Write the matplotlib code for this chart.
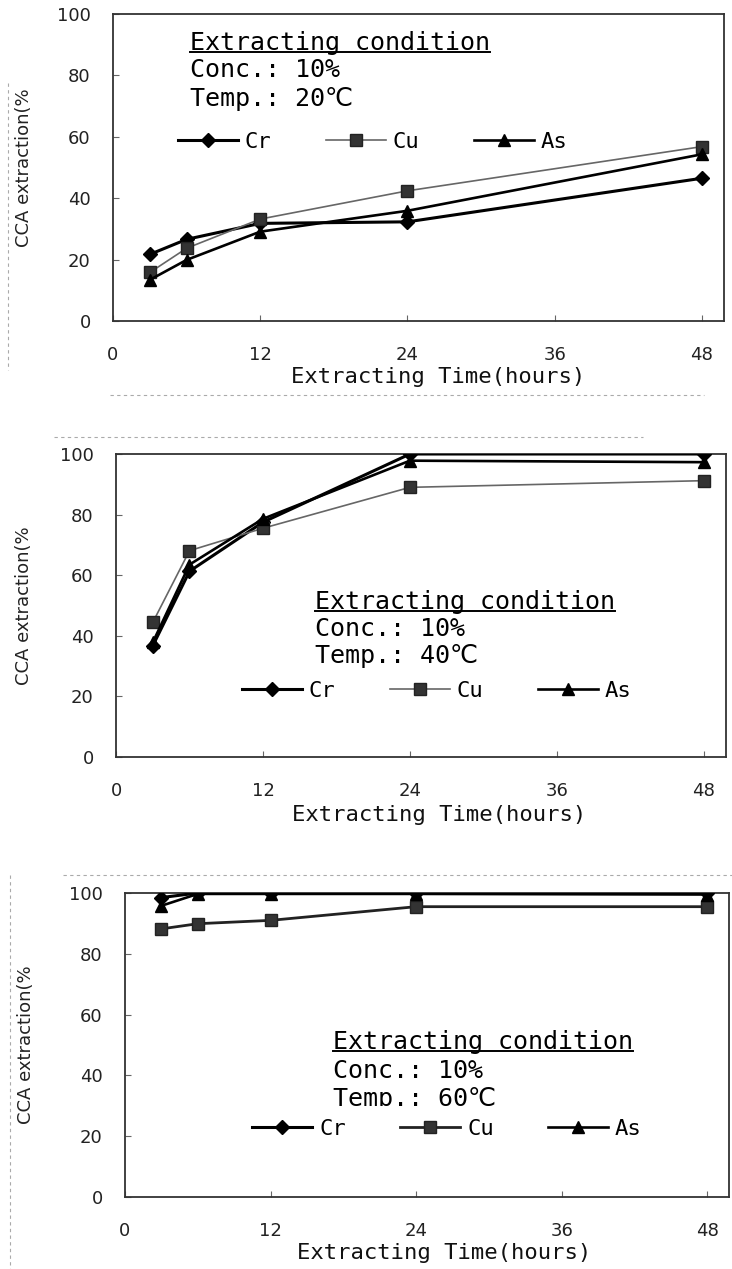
import matplotlib.pyplot as plt
from matplotlib.lines import Line2D

# extraction time (hours)
hours = [3, 6, 12, 24, 48]

# CCA extraction (%) at 20 C
cr_20 = [21.7, 26.6, 31.8, 32.3, 46.5]
cu_20 = [15.8, 23.7, 33.2, 42.4, 56.8]
as_20 = [13.4, 19.9, 29.1, 35.9, 54.3]

# CCA extraction (%) at 40 C
cr_40 = [36.7, 61.3, 77.5, 100.0, 100.0]
cu_40 = [44.4, 68.1, 75.5, 89.0, 91.2]
as_40 = [37.8, 63.5, 78.6, 97.8, 97.3]

# CCA extraction (%) at 60 C
cr_60 = [98.5, 100.0, 100.0, 100.0, 100.0]
cu_60 = [88.2, 89.9, 91.0, 95.5, 95.5]
as_60 = [95.8, 99.7, 99.7, 99.7, 99.5]

temps = ["20", "40", "60"]
series = [(cr_20, cu_20, as_20), (cr_40, cu_40, as_40), (cr_60, cu_60, as_60)]
xticks = [0, 12, 24, 36, 48]
yticks = [0, 20, 40, 60, 80, 100]

W, H = 732, 1269
MONO = ["DejaVu Sans Mono", "DejaVu Sans", "Noto Sans CJK KR"]

# per-panel layout: axes box in pixels (left, top, right, bottom),
# condition text x and baselines, legend anchor, axis label coords
panels = [
    dict(box=(113, 14, 724, 321), tx=0.126, ty=(0.883, 0.795, 0.700),
         leg=(0.085, 0.583), xl=(0.532, -0.150), yl=(-0.131, 0.5),
         cu_color="#666666", cu_lw=1.2, cover=False),
    dict(box=(116, 454, 726, 757), tx=0.326, ty=(0.487, 0.398, 0.310),
         leg=(0.185, 0.218), xl=(0.530, -0.158), yl=(-0.136, 0.5),
         cu_color="#666666", cu_lw=1.2, cover=False),
    dict(box=(125, 893, 729, 1197), tx=0.344, ty=(0.487, 0.392, 0.300),
         leg=(0.189, 0.224), xl=(0.529, -0.151), yl=(-0.149, 0.5),
         cu_color="#222222", cu_lw=2.0, cover=True),
]

fig = plt.figure(figsize=(W / 100, H / 100), dpi=100)
titles = []

for p, temp, (cr, cu, as_) in zip(panels, temps, series):
    l, t, r, b = p["box"]
    ax = fig.add_axes([l / W, 1 - b / H, (r - l) / W, (b - t) / H])

    ax.plot(hours, cr, color="black", lw=2.2, marker="D", ms=7.5,
            mfc="black", mec="black", label="Cr", zorder=3)
    ax.plot(hours, cu, color=p["cu_color"], lw=p["cu_lw"], marker="s", ms=8,
            mfc="#333333", mec="#222222", label="Cu", zorder=3)
    ax.plot(hours, as_, color="black", lw=1.9, marker="^", ms=9,
            mfc="black", mec="black", label="As", zorder=3)

    ax.set_xlim(0, 49.8)
    ax.set_ylim(0, 100)
    ax.set_xticks(xticks)
    ax.set_yticks(yticks)
    ax.tick_params(direction="in", length=4, width=0.8, color="#666666",
                   labelsize=13, labelcolor="#222222")
    ax.tick_params(axis="x", pad=18)
    ax.tick_params(axis="y", pad=16)
    for s in ax.spines.values():
        s.set_color("#333333")
        s.set_linewidth(1.3)

    ax.set_xlabel("Extracting Time(hours)", family=MONO, fontsize=16,
                  color="#111111")
    ax.xaxis.set_label_coords(*p["xl"])
    ax.set_ylabel("CCA extraction(%", fontsize=13, color="#222222")
    ax.yaxis.set_label_coords(*p["yl"])

    tx = p["tx"]
    ty = p["ty"]
    title = ax.text(tx, ty[0], "Extracting condition", transform=ax.transAxes,
                    family=MONO, fontsize=18, va="baseline", zorder=2)
    ax.text(tx, ty[1], "Conc.: 10%", transform=ax.transAxes,
            family=MONO, fontsize=18, va="baseline", zorder=2)
    ax.text(tx, ty[2], "Temp.: " + temp + "℃", transform=ax.transAxes,
            family=MONO, fontsize=18, va="baseline", zorder=2)
    titles.append((ax, title, ty[0]))

    # the 60 C legend sits on a white box that hides the lower part of the
    # temperature line
    leg = ax.legend(loc="center left", bbox_to_anchor=p["leg"], ncol=3,
                    frameon=p["cover"], facecolor="white", edgecolor="none",
                    framealpha=1, fancybox=False, borderpad=0.6,
                    borderaxespad=0, handlelength=2.7, handletextpad=0.3,
                    columnspacing=2.45, prop={"family": MONO, "size": 16})
    leg.set_zorder(5)

# underline the "Extracting condition" headings
fig.canvas.draw()
inv = fig.transFigure.inverted()
for ax, title, base in titles:
    bb = title.get_window_extent()
    y_disp = ax.transAxes.transform((0, base))[1] - 2
    (x0, y0), (x1, _) = inv.transform([(bb.x0, y_disp), (bb.x1, y_disp)])
    fig.add_artist(Line2D([x0, x1], [y0, y0], transform=fig.transFigure,
                          color="black", lw=1.4))

# faint scan edges around the panels
edges = [
    ([8, 8], [83, 370]),
    ([10, 10], [875, 1269]),
    ([110, 704], [395, 395]),
    ([54, 643], [437, 437]),
    ([63, 732], [875, 875]),
]
for xs, ys in edges:
    fig.add_artist(Line2D([x / W for x in xs], [1 - y / H for y in ys],
                          transform=fig.transFigure, color="#aaaaaa",
                          lw=0.8, ls=(0, (3, 3))))

fig.savefig("out.png", dpi=100, facecolor="white")
